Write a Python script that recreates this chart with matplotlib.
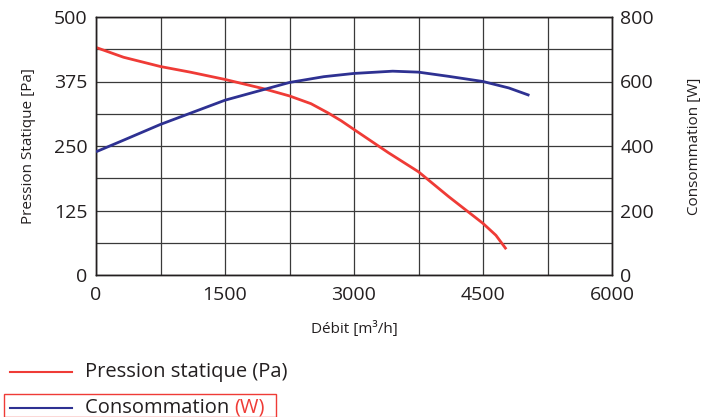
import matplotlib.pyplot as plt
from matplotlib.lines import Line2D
from matplotlib.patches import Rectangle
import numpy as np

plt.rcParams['font.family'] = ['Open Sans', 'DejaVu Sans']

# courbe pression statique (Pa)
debit_p = [0, 320, 750, 1100, 1500, 1950, 2250, 2500, 2700, 2850, 3000, 3400, 3750, 4100, 4500, 4650, 4770]
pression = [441, 422, 404, 393, 379, 361, 347, 332, 314, 299, 282, 237, 200, 152, 100, 77, 50]

# courbe consommation (W)
debit_c = [0, 320, 750, 1100, 1500, 1950, 2250, 2650, 3000, 3450, 3750, 4100, 4500, 4800, 5040]
conso = [382, 418, 467, 502, 542, 575, 597, 615, 625, 632, 629, 616, 600, 580, 557]

xticks = [0, 1500, 3000, 4500, 6000]
yticks_p = [0, 125, 250, 375, 500]
yticks_w = [0, 200, 400, 600, 800]

rouge = '#ef3b36'
bleu = '#2e3192'
noir = '#231f20'

fig = plt.figure(figsize=(7.05, 4.17), dpi=100)
ax = fig.add_axes([96/705, 1-275/417, 516/705, 258/417])
ax2 = ax.twinx()

ax.plot(debit_p, pression, color=rouge, lw=2, zorder=3, solid_capstyle='butt')
ax2.plot(debit_c, conso, color=bleu, lw=2, zorder=3, solid_capstyle='butt')

ax.set_xlim(0, 6000)
ax.set_ylim(0, 500)
ax2.set_ylim(0, 800)
ax.set_xticks(xticks)
ax.set_xticks(np.arange(750, 6000, 1500), minor=True)
ax.set_yticks(yticks_p)
ax.set_yticks(np.arange(62.5, 500, 125), minor=True)
ax2.set_yticks(yticks_w)
ax.grid(True, which='both', color='#3a3a3a', lw=0.9)
ax.set_axisbelow(True)

ax.tick_params(which='both', length=0, labelsize=14, colors=noir)
ax.tick_params(axis='y', pad=6)
ax.tick_params(axis='x', pad=8)
ax2.tick_params(length=0, labelsize=14, colors=noir, pad=6)
for sp in list(ax.spines.values()) + list(ax2.spines.values()):
    sp.set_color(noir)
    sp.set_linewidth(1)

ax.set_ylabel('Pression Statique [Pa]', fontsize=11, labelpad=13, color=noir)
ax2.set_ylabel('Consommation [W]', fontsize=11, labelpad=24, color=noir)
ax.set_xlabel('Débit [m³/h]', fontsize=11, labelpad=12, color=noir)

# legende
fig.add_artist(Line2D([10/705, 72/705], [1-372/417, 1-372/417], color=rouge, lw=1.5))
fig.add_artist(Line2D([10/705, 72/705], [1-408/417, 1-408/417], color=bleu, lw=1.5))
fig.text(85/705, 1-372/417, 'Pression statique (Pa)', fontsize=14.5, va='center', color=noir)
t = fig.text(85/705, 1-408/417, 'Consommation ', fontsize=14.5, va='center', color=noir)
ax.annotate('(W)', xy=(1, 0.5), xycoords=t, va='center', ha='left', fontsize=14.5, color=rouge,
            annotation_clip=False)
fig.add_artist(Rectangle((4/705, 0), 272/705, 1-394/417, transform=fig.transFigure,
                         fill=False, edgecolor=rouge, lw=1))

fig.savefig('out.png', dpi=100)
